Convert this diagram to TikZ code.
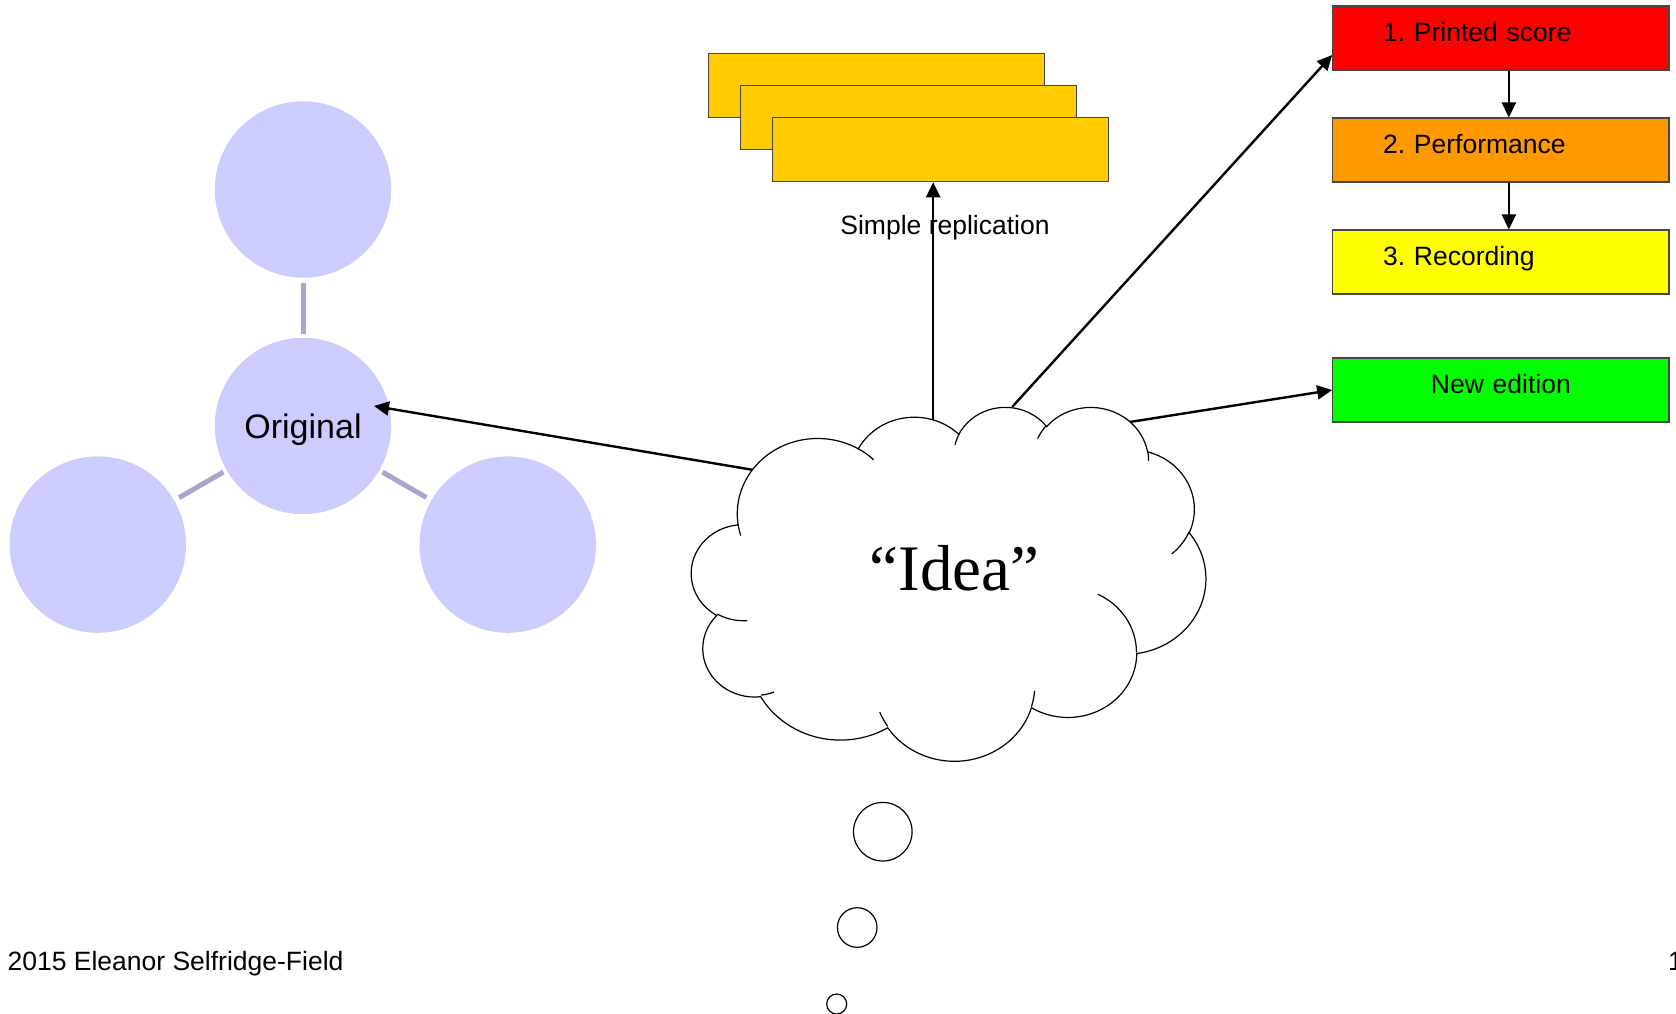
\documentclass[tikz,border=0pt]{standalone}
\usepackage{fontspec}
\setmainfont{Liberation Sans}
\newfontfamily\ideafont{Liberation Serif}
\usetikzlibrary{arrows.meta}
\frenchspacing
\definecolor{circfill}{RGB}{204,204,255}
\definecolor{spokecol}{RGB}{166,166,206}
\definecolor{boxline}{RGB}{70,70,70}
\definecolor{stackcol}{RGB}{255,204,0}
\definecolor{cred}{RGB}{255,0,0}
\definecolor{corange}{RGB}{255,153,0}
\definecolor{cyellow}{RGB}{255,255,0}
\definecolor{cgreen}{RGB}{0,255,0}
\begin{document}
\begin{tikzpicture}[x=1pt,y=-1pt,
  declare function={vpa(\rw,\rh,\va)=atan2(\rw*sin(\va),\rh*cos(\va))+360*round((\va-atan2(\rw*sin(\va),\rh*cos(\va)))/360);},
  ball/.style={circle,fill=circfill,minimum size=176.4pt,inner sep=0pt},
  spoke/.style={draw=spokecol,line width=5pt},
  arr/.style={line width=2.4pt,-{Triangle[length=15pt,width=14pt]}},
  flowbox/.style={rectangle,draw=boxline,line width=1.1pt,minimum width=336.3pt,minimum height=64pt,inner ysep=0pt,inner xsep=50.3pt,text width=235.7pt,text height=35.5pt,text depth=28.5pt,font=\fontsize{26.5}{30}\selectfont\frenchspacing},
  stackbox/.style={rectangle,draw=boxline,line width=1.1pt,fill=stackcol,minimum width=335.6pt,minimum height=64.1pt,inner sep=0pt},
  cloudline/.style={line width=1.2pt,draw=black},
  bubble/.style={circle,draw=black,line width=1.2pt,fill=white,inner sep=0pt},
  lbl/.style={inner sep=0pt,font=\fontsize{26.5}{30}\selectfont},
]
\useasboundingbox (0,0) rectangle (1676,1013);

% radial circles
\node[ball] (top) at (303,189.5) {};
\node[ball,font=\fontsize{34}{40}\selectfont,text height=25pt,text depth=0pt] (orig) at (303,426) {Original};
\node[ball] (left) at (97.8,544.6) {};
\node[ball] (right) at (507.7,544.6) {};
\draw[spoke,shorten <=3.5pt,shorten >=5.5pt] (orig) -- (top);
\draw[spoke,shorten <=3.5pt,shorten >=5.5pt] (orig) -- (left);
\draw[spoke,shorten <=3.5pt,shorten >=5.5pt] (orig) -- (right);

% stacked copies
\node[stackbox] (st1) at (876.5,85.5) {};
\node[stackbox] (st2) at (908.55,117.55) {};
\node[stackbox] (st3) at (940.6,149.65) {};
\node[lbl,anchor=base] (simple) at (945,234.3) {Simple replication};

% flow boxes
\node[flowbox,fill=cred,align=left] (score) at (1500.85,38) {1. Printed score};
\node[flowbox,fill=corange,align=left] (perf) at (1500.85,150) {2. Performance};
\node[flowbox,fill=cyellow,align=left] (rec) at (1500.85,262) {3. Recording};
\node[flowbox,fill=cgreen,align=center] (newed) at (1500.85,390) {New edition};
\draw[arr] ([xshift=8pt]score.south) -- ([xshift=8pt]perf.north);
\draw[arr] ([xshift=8pt]perf.south) -- ([xshift=8pt]rec.north);

% footer
\node[lbl,anchor=base west] (footer) at (7.4,970) {2015 Eleanor Selfridge-Field};
\node[lbl,anchor=base west] (pagenum) at (1668,970) {1};

% connectors from the cloud
\coordinate (cO) at (756.6,470.5);
\coordinate (oTip) at (374,406);
\coordinate (cS) at (933.2,421.5);
\coordinate (cD) at (1012.3,406.8);
\coordinate (cG) at (1126,422.6);
\draw[arr] (cO) -- (oTip);
\draw[arr] (cS) -- (cS |- st3.south);
\draw[arr] (cD) -- ([yshift=-17pt]score.west);
\draw[arr] (cG) -- (newed.west);

% cloud
\begin{scope}[shift={(691.6,406.2)},x=1.19005pt,y=-0.81898pt]
\draw[cloudline,fill=white] (39.00,143.70)
  arc[x radius=67.53,y radius=91.90,start angle={vpa(67.53,91.90,-190.4875)},end angle={vpa(67.53,91.90,-66.7070)}]
  arc[x radius=53.33,y radius=72.67,start angle={vpa(53.33,72.67,-144.1024)},end angle={vpa(53.33,72.67,-54.1572)}]
  arc[x radius=43.65,y radius=59.45,start angle={vpa(43.65,59.45,-145.8079)},end angle={vpa(43.65,59.45,-46.0849)}]
  arc[x radius=48.57,y radius=65.95,start angle={vpa(48.57,65.95,-130.9861)},end angle={vpa(48.57,65.95,-13.7444)}]
  arc[x radius=53.33,y radius=72.73,start angle={vpa(53.33,72.73,-78.7089)},end angle={vpa(53.33,72.73,30.3180)}]
  arc[x radius=67.75,y radius=92.20,start angle={vpa(67.75,92.20,-46.2673)},end angle={vpa(67.75,92.20,84.0017)}]
  arc[x radius=57.85,y radius=78.67,start angle={vpa(57.85,78.67,0.6250)},end angle={vpa(57.85,78.67,114.6583)}]
  arc[x radius=67.52,y radius=92.15,start angle={vpa(67.52,92.15,22.4516)},end angle={vpa(67.52,92.15,137.6242)}]
  arc[x radius=77.20,y radius=105.43,start angle={vpa(77.20,105.43,66.2426)},end angle={vpa(77.20,105.43,141.9536)}]
  arc[x radius=43.60,y radius=59.18,start angle={vpa(43.60,59.18,-274.9421)},end angle={vpa(43.60,59.18,-128.2065)}]
  arc[x radius=43.45,y radius=59.45,start angle={vpa(43.45,59.45,-246.8285)},end angle={vpa(43.45,59.45,-94.3096)}]
  -- cycle;
\draw[cloudline]
  (46.93,261.77) arc[x radius=43.45,y radius=59.45,start angle={vpa(43.45,59.45,86.7420)},end angle={vpa(43.45,59.45,113.1715)}]
  (69.28,348.99) arc[x radius=43.60,y radius=59.18,start angle={vpa(43.60,59.18,73.6105)},end angle={vpa(43.60,59.18,85.0580)}]
  (164.78,390.90) arc[x radius=67.52,y radius=92.15,start angle={vpa(67.52,92.15,137.6242)},end angle={vpa(67.52,92.15,151.7053)}]
  (288.27,347.51) arc[x radius=67.52,y radius=92.15,start angle={vpa(67.52,92.15,6.4533)},end angle={vpa(67.52,92.15,22.4517)}]
  (341.29,229.54) arc[x radius=57.85,y radius=78.67,start angle={vpa(57.85,78.67,-70.2924)},end angle={vpa(57.85,78.67,0.6250)}]
  (417.98,153.54) arc[x radius=53.33,y radius=72.73,start angle={vpa(53.33,72.73,30.3180)},end angle={vpa(53.33,72.73,58.0695)}]
  (383.24,54.26) arc[x radius=48.57,y radius=65.95,start angle={vpa(48.57,65.95,-13.7443)},end angle={vpa(48.57,65.95,1.1146)}]
  (290.78,39.52) arc[x radius=48.57,y radius=65.95,start angle={vpa(48.57,65.95,-149.1815)},end angle={vpa(48.57,65.95,-130.9861)}]
  (221.41,47.20) arc[x radius=43.65,y radius=59.45,start angle={vpa(43.65,59.45,-163.4943)},end angle={vpa(43.65,59.45,-145.8079)}]
  (140.00,51.92) arc[x radius=67.53,y radius=91.90,start angle={vpa(67.53,91.90,-66.7070)},end angle={vpa(67.53,91.90,-54.3876)}]
  (41.27,157.89) arc[x radius=67.53,y radius=91.90,start angle={vpa(67.53,91.90,157.6544)},end angle={vpa(67.53,91.90,169.5126)}];
\end{scope}
\node[inner sep=0pt,anchor=base,font=\ideafont\fontsize{65}{70}\selectfont] (idea) at (954.5,590) {“Idea”};

% thought bubbles
\node[bubble,minimum size=58.6pt] (b1) at (882.8,831.7) {};
\node[bubble,minimum size=39.6pt] (b2) at (857.2,927.5) {};
\node[bubble,minimum size=20pt] (b3) at (836.7,1004) {};
\end{tikzpicture}
\end{document}
